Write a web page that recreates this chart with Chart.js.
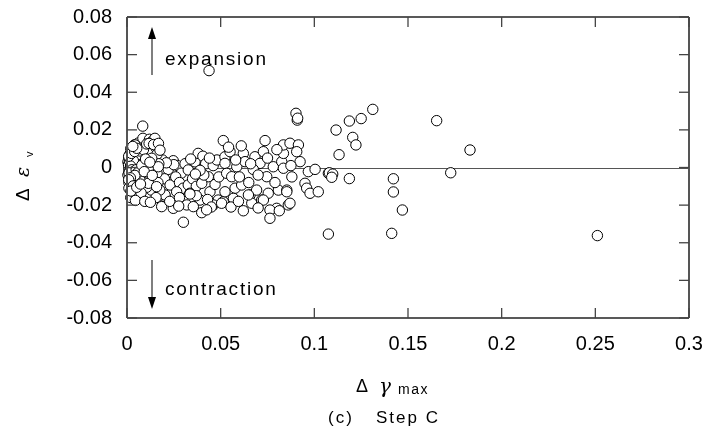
<!DOCTYPE html>
<html>
<head>
<meta charset="utf-8">
<script src="https://cdn.jsdelivr.net/npm/chart.js@4/dist/chart.umd.min.js"></script>
<style>
html,body{margin:0;padding:0;background:#fff;}
#wrap{position:relative;width:708px;height:433px;}
</style>
</head>
<body>
<div id="wrap"><canvas id="c" width="708" height="433"></canvas></div>
<script>
const xTickValues = [0, 0.05, 0.1, 0.15, 0.2, 0.25, 0.3];
const xTickLabels = ['0', '0.05', '0.1', '0.15', '0.2', '0.25', '0.3'];
const yTickValues = [-0.08, -0.06, -0.04, -0.02, 0, 0.02, 0.04, 0.06, 0.08];
const yTickLabels = ['-0.08', '-0.06', '-0.04', '-0.02', '0', '0.02', '0.04', '0.06', '0.08'];

// [Δγmax, Δεv]
const clusterPoints = [
 [0.001,0.002],[0.002,0.003],[0.003,0.001],[0.002,-0.001],[0.001,0.005],[0.003,0.006],[0.004,0.004],[0.005,0.002],
 [0.004,-0.002],[0.002,-0.004],[0.001,-0.002],[0.003,0.009],[0.005,0.008],[0.006,0.005],[0.006,0.001],[0.007,-0.001],
 [0.005,-0.004],[0.003,-0.006],[0.001,-0.008],[0.004,-0.009],[0.006,-0.007],[0.008,-0.004],[0.008,0.003],[0.009,0.007],
 [0.007,0.010],[0.004,0.012],[0.002,0.010],[0.006,0.013],[0.009,0.012],[0.011,0.010],[0.012,0.006],[0.010,0.002],
 [0.011,-0.002],[0.010,-0.006],[0.012,-0.009],[0.009,-0.011],[0.006,-0.012],[0.003,-0.013],[0.001,-0.011],[0.002,-0.016],
 [0.005,-0.015],[0.008,-0.016],[0.011,-0.014],[0.013,-0.012],[0.014,-0.006],[0.013,-0.001],[0.014,0.003],[0.013,0.009],
 [0.015,0.014],[0.0085,0.0155],[0.012,0.015],[0.0132,0.0137],[0.0043,0.012],[0.001,0.0],[0.002,0.001],[0.003,0.003],
 [0.0015,0.004],[0.0025,-0.0025],[0.0035,0.0015],[0.0045,0.0005],[0.0055,0.0035],[0.0065,0.0025],[0.0075,0.0055],[0.0035,0.007],
 [0.0015,0.007],[0.0005,0.003],[0.0005,-0.004],[0.0025,-0.007],[0.0045,-0.006],[0.0065,-0.003],[0.0085,-0.0075],[0.0105,-0.0105],
 [0.0075,-0.0135],[0.0045,-0.0175],[0.0095,-0.018],[0.0016,0.0013],[0.0022,0.0018],[0.0028,0.0008],[0.0018,0.0025],[0.0012,-0.0005],
 [0.0032,-0.0008],[0.0038,0.0045],[0.0058,0.0068],[0.0068,0.0088],[0.0088,0.0095],[0.0105,0.0125],[0.0155,0.0105],[0.016,0.007],
 [0.017,0.002],[0.016,-0.003],[0.0165,-0.008],[0.0175,-0.012],[0.0155,-0.016],[0.0125,-0.0185],[0.0069,-0.0066],[0.0114,-0.0084],
 [0.0158,-0.0102],[0.0132,0.0049],[0.0167,0.0004],[0.0149,0.0155],[0.0084,0.022]
];
const clusterCore = [
 [0.0008,0.0015],[0.0014,0.0032],[0.0021,0.0041],[0.0027,0.0022],[0.0034,0.0036],[0.0019,0.0008],[0.0026,-0.0012],[0.0036,-0.0022],
 [0.0011,-0.0028],[0.0009,0.006],[0.0024,0.0075],[0.0041,0.0085],[0.0052,0.0102],[0.0031,0.0112],[0.0049,-0.0012],[0.0057,-0.0028],
 [0.0042,-0.0042],[0.0018,-0.0055],[0.0009,-0.0065],[0.0033,-0.0098],[0.0021,-0.0125],[0.0052,-0.0105],[0.0072,-0.0088],[0.0079,0.0012],
 [0.0092,-0.0022],[0.0099,0.0045],[0.0118,0.0128],[0.0142,0.0122],[0.0168,0.0128],[0.0176,0.0092],[0.0122,0.0028],[0.0135,-0.0042]
];
const bandPointsA = [
 [0.019,0.004],[0.022,-0.001],[0.0247,0.0036],[0.027,0.001],[0.029,-0.003],[0.031,0.002],[0.0327,-0.0013],[0.0363,0.003],
 [0.038,0.0075],[0.0405,0.006],[0.042,0.002],[0.0434,-0.0049],[0.046,0.001],[0.048,0.004],[0.020,-0.006],[0.023,-0.0093],
 [0.026,-0.005],[0.028,-0.008],[0.030,-0.011],[0.0327,-0.0093],[0.035,-0.006],[0.037,-0.010],[0.0399,-0.0084],[0.041,-0.004],
 [0.0443,-0.0129],[0.047,-0.009],[0.049,-0.005],[0.0203,-0.0155],[0.0265,-0.0129],[0.0336,-0.0137],[0.039,-0.0173],[0.0487,-0.0173],
 [0.0185,-0.0208],[0.0247,-0.0217],[0.0319,-0.0199],[0.0354,-0.0208],[0.0461,-0.0199],[0.0514,-0.0182],[0.0203,-0.0146],[0.0301,-0.0291],
 [0.0399,-0.024],[0.0228,-0.018],[0.028,-0.016],[0.037,-0.015],[0.043,-0.017],[0.045,-0.021],[0.0276,-0.0205],[0.0425,-0.0225],
 [0.0336,-0.0141],[0.0438,0.0515],[0.025,0.0015],[0.034,0.0045],[0.044,0.005],[0.021,0.0025],[0.039,-0.0015],[0.0365,-0.0035]
];
const bandPointsB = [
 [0.0514,0.0143],[0.0523,0.0057],[0.055,0.0084],[0.0523,0.0022],[0.0532,-0.0031],[0.0559,-0.0049],[0.0586,0.0004],[0.0621,0.0075],
 [0.063,0.0031],[0.0683,0.0057],[0.071,0.0022],[0.0674,-0.001],[0.0737,0.0143],[0.0728,0.0084],[0.0781,0.0004],[0.0746,-0.0049],
 [0.0826,0.0031],[0.0835,-0.0004],[0.0835,0.0075],[0.0835,0.012],[0.087,0.0129],[0.0915,0.012],[0.0906,0.0084],[0.0924,0.0031],
 [0.0909,0.0252],[0.0902,0.0288],[0.0911,0.0262],[0.0968,-0.0022],[0.1004,-0.001],[0.1075,-0.0031],[0.095,-0.0084],[0.0959,-0.011],
 [0.0977,-0.0137],[0.1021,-0.0129],[0.0523,-0.0129],[0.0577,-0.011],[0.0612,-0.0093],[0.0657,-0.0146],[0.0692,-0.012],[0.0754,-0.0137],
 [0.0808,-0.012],[0.0853,-0.012],[0.0861,-0.0199],[0.0799,-0.0217],[0.0763,-0.0226],[0.0621,-0.023],[0.0666,-0.019],[0.0763,-0.027],
 [0.0719,-0.0173],[0.0505,-0.019],[0.0568,-0.0164],[0.0813,-0.023],[0.087,-0.019],[0.0853,-0.0129],[0.0728,-0.0173],[0.0648,-0.0146],
 [0.06,-0.005],[0.065,-0.008],[0.07,-0.004],[0.079,-0.008],[0.088,-0.005],[0.058,0.004],[0.066,0.002],[0.075,0.005],
 [0.08,0.0095],[0.0875,0.001],[0.0555,-0.021],[0.0595,-0.018],[0.07,-0.0215],[0.0542,0.0108],[0.061,0.0115]
];
const sparsePoints = [
 [0.1312,0.0309],[0.125,0.026],[0.1187,0.0247],[0.1116,0.0199],[0.1205,0.016],[0.1222,0.012],[0.1132,0.0068],[0.1653,0.0249],
 [0.1831,0.0093],[0.1728,-0.0028],[0.1187,-0.0059],[0.1422,-0.006],[0.1422,-0.013],[0.147,-0.0226],[0.1413,-0.035],[0.2511,-0.0362],
 [0.1075,-0.0354],[0.108,-0.0028],[0.1098,-0.0035],[0.1093,-0.0052]
];

const allPoints = [].concat(bandPointsA, bandPointsB, sparsePoints, clusterPoints, clusterCore).map(p => ({x: p[0], y: p[1]}));

const FONT = '"Liberation Sans", Arial, sans-serif';

const decor = {
  id: 'decor',
  beforeDatasetsDraw(chart) {
    const ctx = chart.ctx, a = chart.chartArea, ys = chart.scales.y;
    const y0 = Math.round(ys.getPixelForValue(0)) + 0.5;
    ctx.save();
    ctx.strokeStyle = '#555';
    ctx.lineWidth = 1.2;
    ctx.beginPath(); ctx.moveTo(a.left, y0); ctx.lineTo(a.right, y0); ctx.stroke();
    ctx.restore();
  },
  afterDatasetsDraw(chart) {
    const ctx = chart.ctx, a = chart.chartArea, xs = chart.scales.x, ys = chart.scales.y;
    ctx.save();
    ctx.lineWidth = 1.5;
    ctx.strokeStyle = '#222';
    ctx.beginPath(); ctx.moveTo(a.left, a.top); ctx.lineTo(a.right, a.top); ctx.stroke();
    ctx.beginPath(); ctx.moveTo(a.left, a.bottom); ctx.lineTo(a.right, a.bottom); ctx.stroke();
    ctx.strokeStyle = '#555';
    ctx.lineWidth = 2;
    ctx.beginPath(); ctx.moveTo(a.left, a.top); ctx.lineTo(a.left, a.bottom); ctx.stroke();
    ctx.beginPath(); ctx.moveTo(a.right, a.top); ctx.lineTo(a.right, a.bottom); ctx.stroke();
    const tl = 10;
    ctx.lineWidth = 1.3;
    ctx.strokeStyle = '#444';
    xs.ticks.forEach(t => {
      const px = xs.getPixelForValue(t.value);
      ctx.beginPath(); ctx.moveTo(px, a.bottom); ctx.lineTo(px, a.bottom - tl); ctx.stroke();
      ctx.beginPath(); ctx.moveTo(px, a.top); ctx.lineTo(px, a.top + tl); ctx.stroke();
    });
    ys.ticks.forEach(t => {
      const py = ys.getPixelForValue(t.value);
      ctx.beginPath(); ctx.moveTo(a.left, py); ctx.lineTo(a.left + tl, py); ctx.stroke();
      ctx.beginPath(); ctx.moveTo(a.right, py); ctx.lineTo(a.right - tl, py); ctx.stroke();
    });
    ctx.restore();
  },
  afterDraw(chart) {
    const ctx = chart.ctx;
    ctx.save();
    ctx.fillStyle = '#000';
    ctx.textBaseline = 'alphabetic';
    ctx.textAlign = 'left';
    ctx.strokeStyle = '#555';
    ctx.lineWidth = 1.5;
    ctx.beginPath(); ctx.moveTo(152, 75); ctx.lineTo(152, 36); ctx.stroke();
    ctx.beginPath(); ctx.moveTo(152, 27); ctx.lineTo(156, 39); ctx.lineTo(148, 39); ctx.closePath(); ctx.fill();
    ctx.beginPath(); ctx.moveTo(152, 260); ctx.lineTo(152, 299); ctx.stroke();
    ctx.beginPath(); ctx.moveTo(152, 309); ctx.lineTo(156, 297); ctx.lineTo(148, 297); ctx.closePath(); ctx.fill();
    ctx.font = '19px ' + FONT;
    ctx.letterSpacing = '1.8px';
    ctx.fillText('expansion', 165, 65);
    ctx.fillText('contraction', 165, 295);
    ctx.letterSpacing = '0px';
    ctx.font = '18px ' + FONT;
    ctx.fillText('Δ', 356, 392);
    ctx.font = 'italic 20px "DejaVu Serif", serif';
    ctx.fillText('γ', 379, 393);
    ctx.font = '14px ' + FONT;
    ctx.letterSpacing = '1.5px';
    ctx.fillText('max', 398, 394);
    ctx.font = '17px ' + FONT;
    ctx.letterSpacing = '2px';
    ctx.fillText('(c)', 328, 423);
    ctx.fillText('Step C', 376, 423);
    ctx.letterSpacing = '0px';
    ctx.translate(29, 201);
    ctx.rotate(-Math.PI / 2);
    ctx.font = '19px ' + FONT;
    ctx.fillText('Δ', 0, 0);
    ctx.font = 'italic 19px "DejaVu Serif", serif';
    ctx.fillText('ε', 24, 0);
    ctx.font = '11px ' + FONT;
    ctx.fillText('v', 44, 4);
    ctx.restore();
  }
};

function noScalePadding(scale) {
  scale.paddingTop = 0; scale.paddingBottom = 0; scale.paddingLeft = 0; scale.paddingRight = 0;
}

new Chart(document.getElementById('c'), {
  type: 'scatter',
  data: {
    datasets: [{
      data: allPoints,
      pointRadius: 5.2,
      pointHoverRadius: 5.2,
      borderWidth: 1,
      borderColor: '#000',
      backgroundColor: '#fff',
      pointStyle: 'circle',
      clip: false
    }]
  },
  options: {
    responsive: false,
    animation: false,
    events: [],
    layout: { padding: { left: 0, right: 19, top: 17, bottom: 0 } },
    plugins: { legend: { display: false }, tooltip: { enabled: false } },
    scales: {
      x: {
        type: 'linear',
        min: 0, max: 0.3,
        afterBuildTicks(scale) { scale.ticks = xTickValues.map(v => ({ value: v })); },
        afterFit(scale) { scale.height = 115; noScalePadding(scale); },
        grid: { display: false, drawTicks: false },
        border: { display: false },
        ticks: {
          padding: 14,
          color: '#000',
          font: { family: FONT, size: 20 },
          maxRotation: 0,
          callback: (v, i) => xTickLabels[i]
        }
      },
      y: {
        type: 'linear',
        min: -0.08, max: 0.08,
        afterBuildTicks(scale) { scale.ticks = yTickValues.map(v => ({ value: v })); },
        afterFit(scale) { scale.width = 127; noScalePadding(scale); },
        grid: { display: false, drawTicks: false },
        border: { display: false },
        ticks: {
          padding: 15,
          color: '#000',
          font: { family: FONT, size: 20 },
          callback: (v, i) => yTickLabels[i]
        }
      }
    }
  },
  plugins: [decor]
});
</script>
</body>
</html>
